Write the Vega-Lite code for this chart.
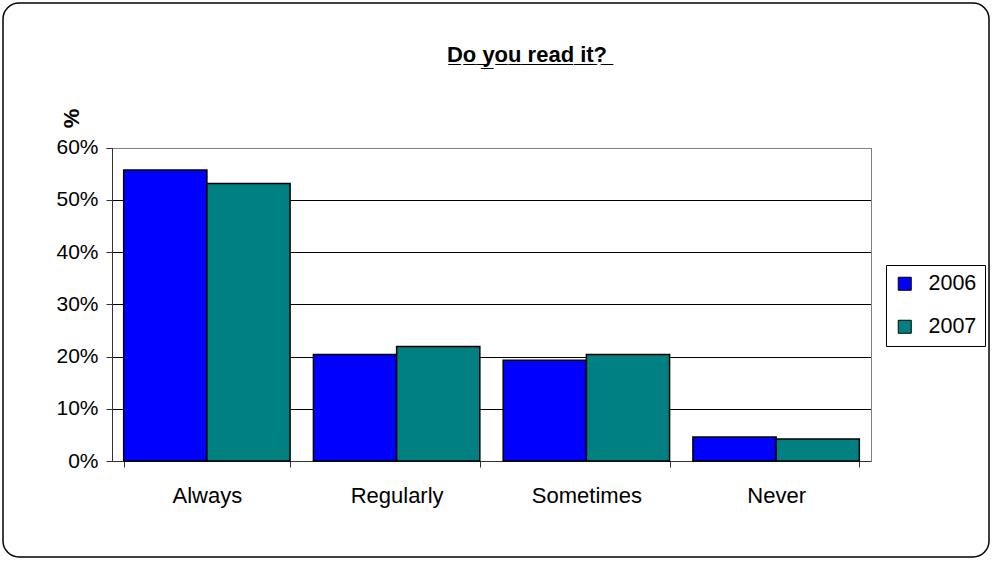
{
  "$schema": "https://vega.github.io/schema/vega-lite/v6.json",
  "autosize": "none",
  "width": 986,
  "height": 554,
  "padding": {"left": 3, "top": 3, "right": 8, "bottom": 8},
  "background": "white",
  "config": {
    "font": "Liberation Sans",
    "view": {"stroke": "black", "strokeWidth": 1.5, "cornerRadius": 16, "fill": "white"}
  },
  "title": {
    "text": "D\u0332o\u0332 \u0332y\u0332o\u0332u\u0332 \u0332r\u0332e\u0332a\u0332d\u0332 \u0332i\u0332t\u0332?\u0332",
    "font": "Liberation Sans",
    "fontSize": 22,
    "fontWeight": "bold",
    "color": "black",
    "anchor": "middle",
    "frame": "group",
    "baseline": "alphabetic",
    "offset": 0,
    "dx": 31,
    "dy": 81
  },
  "data": {
    "values": [
      {"answer": "Always", "year": "2006", "share": 0.557},
      {"answer": "Always", "year": "2007", "share": 0.531},
      {"answer": "Regularly", "year": "2006", "share": 0.204},
      {"answer": "Regularly", "year": "2007", "share": 0.219},
      {"answer": "Sometimes", "year": "2006", "share": 0.193},
      {"answer": "Sometimes", "year": "2007", "share": 0.204},
      {"answer": "Never", "year": "2006", "share": 0.046},
      {"answer": "Never", "year": "2007", "share": 0.042}
    ]
  },
  "layer": [
    {
      "mark": {"type": "bar", "stroke": "black", "strokeWidth": 1.5},
      "encoding": {
        "x": {
          "field": "answer",
          "type": "nominal",
          "sort": ["Always", "Regularly", "Sometimes", "Never"],
          "scale": {"range": [109, 868], "paddingInner": 0.123, "paddingOuter": 0.0615},
          "axis": {
            "orient": "bottom",
            "offset": -96,
            "title": null,
            "labelAngle": 0,
            "labelFontSize": 22,
            "labelColor": "black",
            "labelPadding": 18,
            "tickBand": "extent",
            "tickSize": 6,
            "tickColor": "#333333",
            "domainColor": "#333333",
            "grid": false
          }
        },
        "xOffset": {"field": "year", "type": "nominal"},
        "y": {
          "field": "share",
          "type": "quantitative",
          "scale": {"domain": [0, 0.6], "range": [458, 144.5], "nice": false},
          "axis": {
            "orient": "left",
            "offset": -109,
            "values": [0, 0.1, 0.2, 0.3, 0.4, 0.5, 0.6],
            "format": ".0%",
            "labelFontSize": 21,
            "labelColor": "black",
            "labelPadding": 8,
            "tickSize": 6,
            "tickColor": "#333333",
            "domainColor": "#333333",
            "grid": true,
            "gridColor": {"condition": {"test": "datum.value >= 0.59", "value": "#808080"}, "value": "black"},
            "title": "%",
            "titleFontSize": 22,
            "titleFontWeight": "bold",
            "titleColor": "black",
            "titleAngle": -90,
            "titleX": -41,
            "titleY": 115,
            "titleAlign": "center",
            "titleBaseline": "middle"
          }
        },
        "color": {
          "field": "year",
          "type": "nominal",
          "scale": {"domain": ["2006", "2007"], "range": ["#0000ff", "#008080"]},
          "legend": {
            "orient": "none",
            "legendX": 883,
            "legendY": 262,
            "title": null,
            "direction": "vertical",
            "strokeColor": "black",
            "fillColor": "white",
            "padding": 8,
            "symbolType": "square",
            "symbolSize": 169,
            "symbolStrokeColor": "black",
            "symbolStrokeWidth": 1,
            "symbolOpacity": 1,
            "labelFontSize": 21.5,
            "labelColor": "black",
            "labelOffset": 13,
            "labelExpr": "datum.label + '  '",
            "rowPadding": 20
          }
        }
      }
    },
    {
      "mark": {"type": "bar", "opacity": 0},
      "encoding": {
        "x": {
          "field": "answer",
          "type": "nominal",
          "sort": ["Always", "Regularly", "Sometimes", "Never"]
        },
        "xOffset": {"field": "year", "type": "nominal"},
        "y": {
          "field": "share",
          "type": "quantitative",
          "axis": {
            "orient": "right",
            "offset": -118,
            "labels": false,
            "ticks": false,
            "grid": false,
            "title": null,
            "domainColor": "#808080"
          }
        }
      }
    }
  ],
  "resolve": {"axis": {"y": "independent"}}
}
